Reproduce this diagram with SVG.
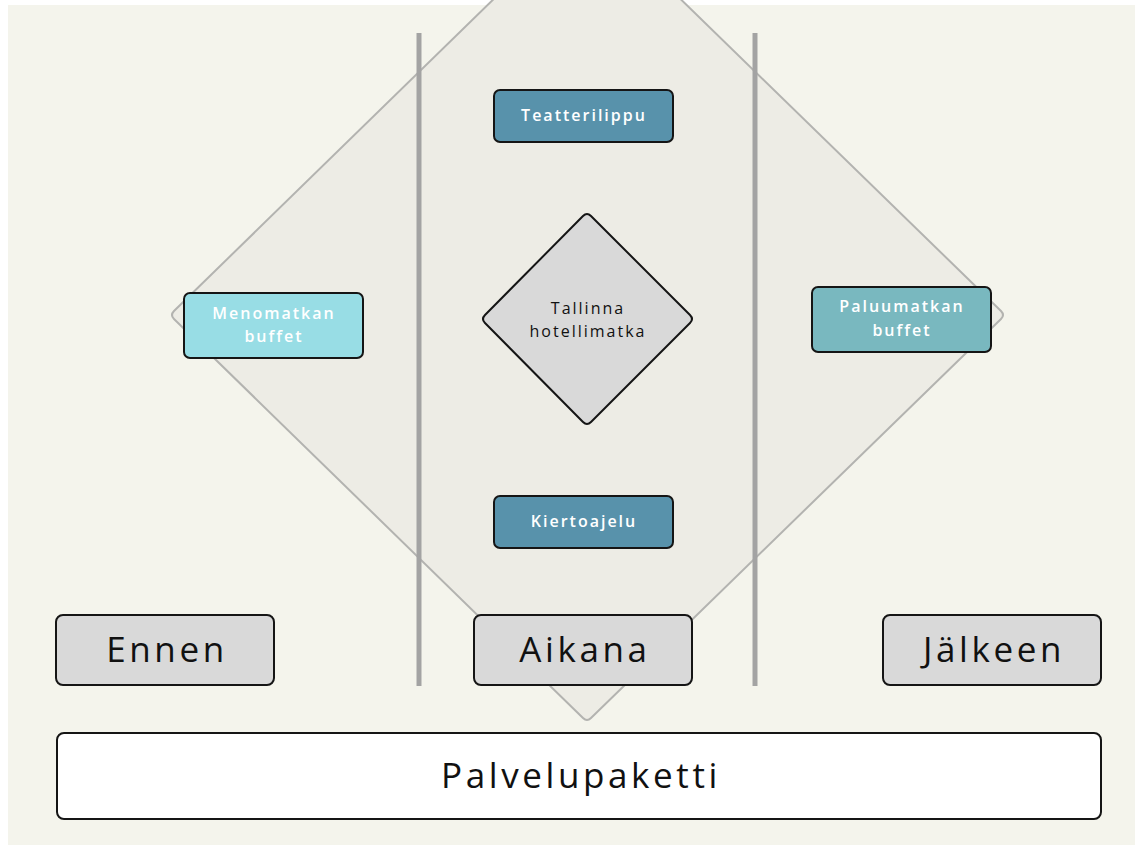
<svg xmlns="http://www.w3.org/2000/svg" width="1143" height="850" viewBox="0 0 1143 850">
<style>
.box{stroke:#151515;stroke-width:2}
.lbl{font-family:"Open Sans","Liberation Sans",sans-serif;fill:#ffffff;font-weight:600;font-size:16px;letter-spacing:2px;text-anchor:middle}
.big{font-family:"Open Sans","Liberation Sans",sans-serif;fill:#111;font-size:35px;letter-spacing:3.6px;text-anchor:middle}
.mid{font-family:"Open Sans","Liberation Sans",sans-serif;fill:#111;font-size:16px;letter-spacing:2px;text-anchor:middle}
.vline{stroke:#a3a3a3;stroke-width:5}
</style>
<rect x="0" y="0" width="1143" height="850" fill="#ffffff"/>
<rect x="8" y="5" width="1127" height="840" fill="#f4f4ec"/>
<g id="frame">
<path d="M 587 -92 L 1001 311 Q 1005 315 1001 319 L 591 718 Q 587 722 583 718 L 174 319 Q 170 315 174 311 Z" fill="#edece5" stroke="#b3b3b0" stroke-width="2"/>
</g>
<g id="connectors">
<line class="vline" x1="419" y1="33" x2="419" y2="686"/>
<line class="vline" x1="755" y1="33" x2="755" y2="686"/>
</g>
<g id="teatterilippu">
<rect class="box" x="494" y="90" width="179" height="52" rx="6" fill="#5892ab"/>
<text class="lbl" x="584" y="121">Teatterilippu</text>
</g>
<g id="kiertoajelu">
<rect class="box" x="494" y="496" width="179" height="52" rx="6" fill="#5892ab"/>
<text class="lbl" x="584" y="527">Kiertoajelu</text>
</g>
<g id="menomatkan">
<rect class="box" x="184" y="293" width="179" height="65" rx="6" fill="#98dde5"/>
<text class="lbl" x="274" y="319">Menomatkan</text>
<text class="lbl" x="274" y="342">buffet</text>
</g>
<g id="paluumatkan">
<rect class="box" x="812" y="287" width="179" height="65" rx="6" fill="#79b8bf"/>
<text class="lbl" x="902" y="312">Paluumatkan</text>
<text class="lbl" x="902" y="336">buffet</text>
</g>
<g id="tallinna">
<path d="M 583 216 Q 587 212 591 216 L 690 315 Q 694 319 690 323 L 591 422 Q 587 426 583 422 L 485 323 Q 481 319 485 315 Z" fill="#d9d9d9" stroke="#151515" stroke-width="2"/>
<text class="mid" x="588" y="314">Tallinna</text>
<text class="mid" x="588" y="337">hotellimatka</text>
</g>
<g id="ennen">
<rect class="box" x="56" y="615" width="218" height="70" rx="7" fill="#d9d9d9"/>
<text class="big" x="167" y="662">Ennen</text>
</g>
<g id="aikana">
<rect class="box" x="474" y="615" width="218" height="70" rx="7" fill="#d9d9d9"/>
<text class="big" x="585" y="662">Aikana</text>
</g>
<g id="jalkeen">
<rect class="box" x="883" y="615" width="218" height="70" rx="7" fill="#d9d9d9"/>
<text class="big" x="994" y="662">Jälkeen</text>
</g>
<g id="palvelupaketti">
<rect class="box" x="57" y="733" width="1044" height="86" rx="7" fill="#ffffff"/>
<text class="big" x="581" y="788">Palvelupaketti</text>
</g>
</svg>
